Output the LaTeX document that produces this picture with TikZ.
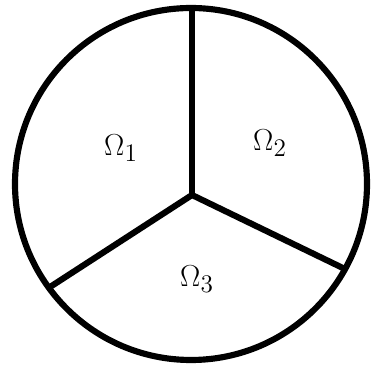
\documentclass[tikz,border=0pt]{standalone}
\usepackage{amsmath}
\usepackage{tikz}
\usetikzlibrary{positioning}

\begin{document}
\begin{tikzpicture}[x=0.02cm,y=-0.02cm]
    % Canvas
    \useasboundingbox (0,0) rectangle (372,367);
    
    % Outer disk
    \coordinate (c) at (191,184);
    \draw[line width=3.5pt] (c) circle [radius=176];
    
    % Junction and end points on the rim
    \coordinate (o) at (192,195);
    \coordinate (rtop) at (192,8);
    \coordinate (rleft) at (50,287);
    \coordinate (rright) at (347,270);
    
    % Interfaces between the subdomains
    \draw[line width=3.5pt,line join=round] (rtop) -- (o);
    \draw[line width=3.5pt,line join=round] (rleft) -- (o) -- (rright);
    
    % Subdomain labels
    \node[font=\fontsize{19}{22}\selectfont] (om1) at (121,148) {$\Omega_1$};
    \node[font=\fontsize{19}{22}\selectfont] (om2) at (270,143) {$\Omega_2$};
    \node[font=\fontsize{19}{22}\selectfont] (om3) at (197,279) {$\Omega_3$};
\end{tikzpicture}
\end{document}
